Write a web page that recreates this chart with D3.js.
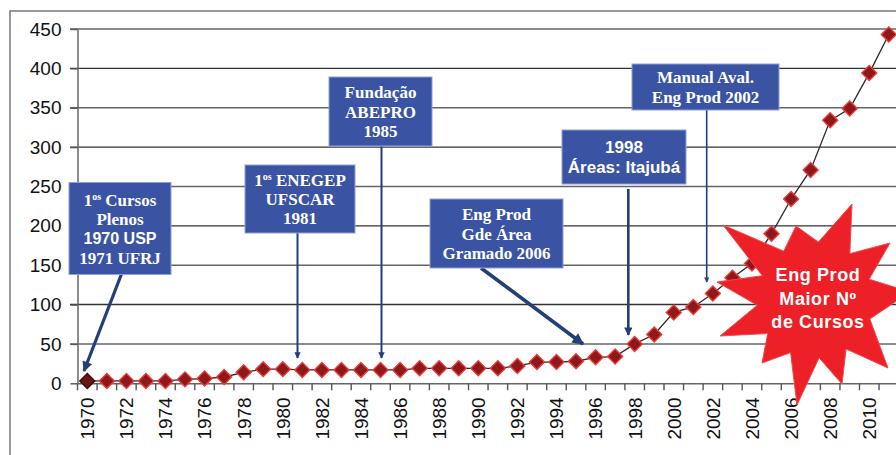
<!DOCTYPE html>
<html><head><meta charset="utf-8">
<script src="https://cdn.jsdelivr.net/npm/d3@7/dist/d3.min.js"></script>
<style>body{margin:0;background:#fff}svg{display:block}</style>
</head><body>
<svg id="c" width="896" height="455"></svg>
<script>
const years = [1970,1971,1972,1973,1974,1975,1976,1977,1978,1979,1980,1981,1982,1983,1984,1985,1986,1987,1988,1989,1990,1991,1992,1993,1994,1995,1996,1997,1998,1999,2000,2001,2002,2003,2004,2005,2006,2007,2008,2009,2010,2011];
const values = [3,3,3,3,3,5,6,8,14,18,18,17,17,17,17,17,17,19,19,19,19,19,22,27,27,28,33,34,50,62,90,97,114,134,152,190,234,271,334,349,394,443];
const yTicks = [0,50,100,150,200,250,300,350,400,450];
const xTickLabels = [1970,1972,1974,1976,1978,1980,1982,1984,1986,1988,1990,1992,1994,1996,1998,2000,2002,2004,2006,2008,2010];

const boxTexts = [
  ["1|os| Cursos","Plenos","1970 USP","1971 UFRJ"],
  ["1|os| ENEGEP","UFSCAR","1981"],
  ["Fundação","ABEPRO","1985"],
  ["Eng Prod","Gde Área","Gramado 2006"],
  ["1998","Áreas: Itajubá"],
  ["Manual Aval.","Eng Prod 2002"]
];
const starText = ["Eng Prod","Maior Nº","de Cursos"];

// layout (pixels)
const layout = {
  boxes: [
    {x:69,y:182.5,w:102,h:92,fonts:["serif","serif","sans","serif"]},
    {x:245,y:165,w:110,h:68,fonts:["serif","serif","serif"]},
    {x:329,y:77,w:103,h:69,fonts:["serif","serif","serif"]},
    {x:430,y:199,w:133,h:69,fonts:["serif","serif","serif"]},
    {x:562,y:130,w:124,h:54,fonts:["sans","sans"]},
    {x:632,y:64,w:147,h:46,fonts:["serif","serif"]}
  ],
  arrows: [
    {x1:121.5,y1:274,x2:84,y2:371,w:3.2},
    {x1:297.5,y1:233,x2:297.5,y2:358,w:2},
    {x1:381.5,y1:146,x2:381.5,y2:358,w:2},
    {x1:481,y1:268,x2:583,y2:344,w:3.6},
    {x1:628.3,y1:189,x2:628.3,y2:335,w:2.6},
    {x1:706.7,y1:110,x2:706.7,y2:282,w:1.6}
  ],
  star: {cx:815,cy:300,rIn:58,
    outer:[[-92,-75],[-19,-74],[37,-96],[75,-57],[95,-8],[73,68],[27,84],[-18,105],[-53,63],[-95,36],[-98,-18]]}
};

const svg = d3.select("#c");
const plotLeft = 77.5, step = 19.55, plotTop = 29, plotBottom = 383.3;
const x = d3.scaleBand().domain(years).range([plotLeft, plotLeft + step*years.length]).padding(0);
const y = d3.scaleLinear().domain([0,450]).range([plotBottom, plotTop]);

// frame
svg.append("rect").attr("x",10).attr("y",11).attr("width",900).attr("height",470)
  .attr("fill","none").attr("stroke","#777").attr("stroke-width",1.5);

// gridlines
svg.append("g").selectAll("line").data(yTicks.filter(d=>d>0)).join("line")
  .attr("x1",70).attr("x2",896).attr("y1",d=>y(d)).attr("y2",d=>y(d))
  .attr("stroke",(d,i)=> i%2 ? "#333" : "#666").attr("stroke-width",1.4);

// y axis
const ya = svg.append("g").attr("transform",`translate(${plotLeft},0)`)
  .call(d3.axisLeft(y).tickValues(yTicks).tickSize(7).tickPadding(9).tickSizeOuter(0));
ya.select(".domain").attr("stroke","#666").attr("stroke-width",1.5);
ya.selectAll(".tick line").attr("stroke","#555").attr("stroke-width",1.4);
ya.selectAll("text").attr("font-family","Liberation Sans, Arial, sans-serif").attr("font-size",19).attr("fill","#111");

// x axis
const xa = svg.append("g").attr("transform",`translate(0,${plotBottom})`)
  .call(d3.axisBottom(x).tickValues(xTickLabels).tickSize(0).tickSizeOuter(0));
xa.select(".domain").attr("stroke","#666").attr("stroke-width",1.5);
xa.selectAll("text").attr("font-family","Liberation Sans, Arial, sans-serif").attr("font-size",19).attr("fill","#111")
  .attr("transform","rotate(-90)").attr("x",-14).attr("y",0).attr("dy","0.36em").style("text-anchor","end");
// category boundary ticks
const lastEdge = x(years[years.length-1]) + x.bandwidth();
svg.append("g").selectAll("line").data(years.concat([null])).join("line")
  .attr("x1",(d,i)=> i<years.length ? x(d) : lastEdge)
  .attr("x2",(d,i)=> i<years.length ? x(d) : lastEdge)
  .attr("y1",plotBottom).attr("y2",plotBottom+7).attr("stroke","#555").attr("stroke-width",1.4);

// line
const data = years.map((yr,i)=>({yr, v:values[i]}));
svg.append("path").datum(data)
  .attr("d", d3.line().x(d=>x(d.yr)+x.bandwidth()/2).y(d=>y(d.v)))
  .attr("fill","none").attr("stroke","#2a2a2a").attr("stroke-width",1.3);

// markers
const sym = d3.symbol().type(d3.symbolSquare).size(112);
svg.append("g").selectAll("path").data(data).join("path")
  .attr("d", sym)
  .attr("transform", d=>`translate(${x(d.yr)+x.bandwidth()/2},${y(d.v)}) rotate(45)`)
  .attr("fill",(d,i)=> i===0 ? "#6a1616" : "#8c1a1a")
  .attr("stroke",(d,i)=> i===0 ? "#3a1010" : "#f0383a").attr("stroke-width",1.4);

// arrows
const navy = "#223f78";
const defs = svg.append("defs");
defs.append("marker").attr("id","ah").attr("viewBox","0 0 10 10").attr("refX",9).attr("refY",5)
  .attr("markerWidth",4).attr("markerHeight",3.2).attr("orient","auto")
  .append("path").attr("d","M0,0 L10,5 L0,10 z").attr("fill",navy);
svg.append("g").selectAll("line").data(layout.arrows).join("line")
  .attr("x1",d=>d.x1).attr("y1",d=>d.y1).attr("x2",d=>d.x2).attr("y2",d=>d.y2)
  .attr("stroke",navy).attr("stroke-width",d=>d.w).attr("marker-end","url(#ah)");

// boxes
const serif = "Liberation Serif, Times New Roman, serif";
const sans = "Liberation Sans, Arial, sans-serif";
layout.boxes.forEach((b,i)=>{
  const g = svg.append("g");
  g.append("rect").attr("x",b.x).attr("y",b.y).attr("width",b.w).attr("height",b.h)
    .attr("fill","#3a54a3").attr("stroke","#8ea0d4").attr("stroke-width",1);
  const lines = boxTexts[i];
  const lh = 19.3;
  const y0 = b.y + b.h/2 - (lines.length-1)*lh/2;
  lines.forEach((ln,j)=>{
    const isSerif = b.fonts[j]==="serif";
    const t = g.append("text").attr("x",b.x+b.w/2).attr("y",y0+j*lh).attr("dy","0.36em")
      .attr("text-anchor","middle").attr("fill","#fff").attr("font-weight","bold")
      .attr("font-family", isSerif ? serif : sans)
      .attr("font-size", (isSerif || lines.length < 3) ? 17 : 16);
    const parts = ln.split("|");
    if(parts.length===3){
      t.append("tspan").text(parts[0]);
      t.append("tspan").attr("font-size",10).attr("dy",-6).text(parts[1]);
      t.append("tspan").attr("dy",6).text(parts[2]);
    } else t.text(ln);
  });
});

// star
const st = layout.star;
const pts = [];
const n = st.outer.length;
st.outer.forEach((p,i)=>{
  pts.push([st.cx+p[0], st.cy+p[1]]);
  const q = st.outer[(i+1)%n];
  let a1 = Math.atan2(p[1],p[0]), a2 = Math.atan2(q[1],q[0]);
  if(a2 < a1) a2 += 2*Math.PI;
  const am = (a1+a2)/2;
  pts.push([st.cx+Math.cos(am)*st.rIn, st.cy+Math.sin(am)*st.rIn]);
});
svg.append("polygon").attr("points", pts.map(p=>p.join(",")).join(" "))
  .attr("fill","#ec2026").attr("stroke","#f24a4e").attr("stroke-width",1);
starText.forEach((s,j)=>{
  svg.append("text").attr("x",818).attr("y",275+j*23.3).attr("dy","0.36em")
    .attr("text-anchor","middle").attr("fill","#fff").attr("font-weight","bold")
    .attr("font-family",sans).attr("font-size",18).attr("letter-spacing",0.6).text(s);
});
</script>
</body></html>
